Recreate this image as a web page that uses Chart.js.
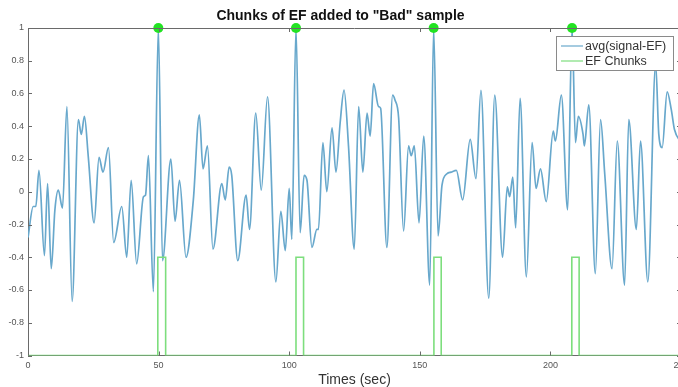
<!DOCTYPE html>
<html>
<head>
<meta charset="utf-8">
<script src="https://cdn.jsdelivr.net/npm/chart.js@4.4.1/dist/chart.umd.min.js"></script>
<style>
html, body { margin: 0; padding: 0; background: #fff; overflow: hidden; }
</style>
</head>
<body>
<canvas id="chunkChart" width="700" height="387"></canvas>
<script>
// signal (seconds, amplitude)
var sigTime = [0, 2.0, 3.0, 4.2, 6.3, 7.5, 8.9, 10.3, 11.6, 13.2, 14.9, 16.9, 19.3, 20.4, 21.6, 23.1, 25.3, 27.2, 28.7, 30.8,
    32.8, 35.9, 37.8, 39.5, 41.6, 44.2, 45.0, 46.1, 48.0, 49.9, 51.5, 54.7, 56.3, 58.0, 60.5, 63.3, 65.6, 67.0, 68.7, 70.8,
    74.2, 75.5, 77.0, 78.0, 80.3, 83.5, 84.8, 87.2, 89.3, 91.7, 94.9, 96.8, 98.5, 100.0, 101.0, 102.6, 104.2, 105.7, 106.8, 108.7,
    110.6, 111.2, 112.9, 114.4, 116.4, 117.9, 119.5, 121.0, 122.7, 124.9, 126.6, 128.2, 129.8, 131.0, 132.3, 134.2, 135.0, 137.4, 139.6, 140.5,
    141.9, 143.8, 145.7, 146.7, 147.9, 149.7, 151.5, 153.8, 155.3, 157.0, 158.5, 160.4, 162.0, 164.0, 166.4, 169.3, 171.5, 173.4, 176.4, 178.7,
    181.7, 183.5, 184.4, 185.6, 186.7, 188.4, 190.8, 193.0, 194.5, 196.2, 198.4, 201.1, 201.9, 204.2, 206.6, 208.3, 209.6, 210.7, 212.5, 213.0,
    214.7, 217.2, 219.2, 220.8, 223.6, 225.6, 228.4, 230.0, 232.9, 234.5, 237.3, 240.3, 241.5, 242.8, 244.7, 246.3, 247.5, 250];
var sigValue = [-0.28, -0.09, -0.09, 0.13, -0.39, 0.05, -0.47, -0.11, 0.01, -0.10, 0.52, -0.67, 0.44, 0.35, 0.46, 0.21, -0.19, 0.21, 0.12, 0.27,
    -0.31, -0.09, -0.40, 0.07, -0.44, -0.03, -0.02, 0.22, -0.61, 1.0, -0.42, 0.20, -0.18, 0.07, -0.40, -0.05, 0.47, 0.14, 0.28, -0.35,
    0.05, -0.05, 0.15, 0.10, -0.42, -0.02, -0.23, 0.48, 0.01, 0.58, -0.55, -0.12, -0.36, 0.02, -0.29, 1.0, -0.25, 0.10, 0.07, -0.34,
    -0.23, -0.23, 0.30, 0.00, 0.39, 0.12, 0.42, 0.62, 0.28, -0.35, 0.52, 0.12, 0.48, 0.34, 0.66, 0.52, 0.51, -0.34, 0.59, 0.56,
    0.45, -0.24, 0.28, 0.22, 0.28, -0.19, 0.34, -0.57, 1.0, -0.27, 0.04, 0.11, 0.12, 0.13, -0.05, 0.32, 0.08, 0.62, -0.65, 0.59,
    -0.40, 0.03, -0.03, 0.09, -0.22, 0.57, -0.52, 0.30, 0.02, 0.14, -0.06, 0.37, 0.31, 0.59, -0.11, 1.0, 0.30, 0.46, 0.35, 0.28,
    0.53, -0.50, 0.44, 0.11, -0.47, 0.31, -0.57, 0.44, -0.23, 0.31, -0.55, 0.78, 0.35, 0.27, 0.61, 0.50, 0.38, 0.30];

// EF chunks (start/end in seconds) and their levels
var chunkStart = [49.7, 102.6, 155.4, 208.2];
var chunkEnd = [52.7, 105.5, 158.2, 211.0];
var chunkBase = -1;
var chunkTop = -0.4;

// green markers on the spikes
var peakTime = [49.9, 102.6, 155.3, 208.3];
var peakValue = [1, 1, 1, 1];

var seriesLabels = ['avg(signal-EF)', 'EF Chunks'];
var xMax = 250;

var signalPoints = [];
for (var i = 0; i < sigTime.length; i++) {
    signalPoints.push({ x: sigTime[i], y: sigValue[i] });
}

var chunkPoints = [{ x: 0, y: chunkBase }];
for (var j = 0; j < chunkStart.length; j++) {
    chunkPoints.push({ x: chunkStart[j], y: chunkBase });
    chunkPoints.push({ x: chunkStart[j], y: chunkTop });
    chunkPoints.push({ x: chunkEnd[j], y: chunkTop });
    chunkPoints.push({ x: chunkEnd[j], y: chunkBase });
}
chunkPoints.push({ x: xMax, y: chunkBase });

var peakPoints = [];
for (var k = 0; k < peakTime.length; k++) {
    peakPoints.push({ x: peakTime[k], y: peakValue[k] });
}

const blue = 'rgb(104, 168, 204)';
const green = 'rgb(125, 222, 125)';
const axisGray = '#6a6a6a';

// inward ticks and the closed box, matlab style
var boxTicks = {
    id: 'boxTicks',
    afterDatasetsDraw: function(chart) {
        var ctx = chart.ctx, a = chart.chartArea;
        ctx.save();
        ctx.strokeStyle = axisGray;
        ctx.lineWidth = 1;
        ctx.beginPath();
        ctx.moveTo(a.left, a.top + 0.5);
        ctx.lineTo(a.right, a.top + 0.5);
        ctx.moveTo(a.right - 0.5, a.top);
        ctx.lineTo(a.right - 0.5, a.bottom);
        chart.scales.x.ticks.forEach(function(t) {
            var px = Math.round(chart.scales.x.getPixelForValue(t.value)) + 0.5;
            ctx.moveTo(px, a.bottom);
            ctx.lineTo(px, a.bottom - 4);
            ctx.moveTo(px, a.top);
            ctx.lineTo(px, a.top + 4);
        });
        chart.scales.y.ticks.forEach(function(t) {
            var py = Math.round(chart.scales.y.getPixelForValue(t.value)) + 0.5;
            ctx.moveTo(a.left, py);
            ctx.lineTo(a.left + 4, py);
            ctx.moveTo(a.right, py);
            ctx.lineTo(a.right - 4, py);
        });
        ctx.stroke();
        ctx.restore();
    },
    afterDraw: function(chart) {
        var ctx = chart.ctx, a = chart.chartArea;
        var bx = a.right - 125, by = a.top + 8, bw = 117, bh = 34;
        ctx.save();
        ctx.fillStyle = '#fff';
        ctx.fillRect(bx, by, bw, bh);
        ctx.strokeStyle = '#8a8a8a';
        ctx.lineWidth = 1;
        ctx.strokeRect(bx + 0.5, by + 0.5, bw, bh);
        var cols = [blue, green];
        ctx.font = '12.5px "Liberation Sans", Arial, sans-serif';
        ctx.textBaseline = 'middle';
        for (var n = 0; n < seriesLabels.length; n++) {
            var ly = by + 10 + n * 15;
            ctx.strokeStyle = cols[n];
            ctx.lineWidth = 1.2;
            ctx.beginPath();
            ctx.moveTo(bx + 5, ly);
            ctx.lineTo(bx + 27, ly);
            ctx.stroke();
            ctx.fillStyle = '#333';
            ctx.fillText(seriesLabels[n], bx + 29, ly + 0.5);
        }
        ctx.restore();
    }
};

var ctx = document.getElementById('chunkChart').getContext('2d');
var myChart = new Chart(ctx, {
    type: 'line',
    data: {
        datasets: [
            {
                label: 'peaks',
                data: peakPoints,
                showLine: false,
                pointRadius: 5,
                pointBackgroundColor: '#22e322',
                pointBorderColor: '#22e322',
                pointBorderWidth: 0,
                clip: false,
                order: 0
            },
            {
                label: seriesLabels[1],
                data: chunkPoints,
                borderColor: green,
                borderWidth: 1.6,
                pointRadius: 0,
                tension: 0,
                order: 1
            },
            {
                label: seriesLabels[0],
                data: signalPoints,
                borderColor: blue,
                borderWidth: 1.7,
                pointRadius: 0,
                cubicInterpolationMode: 'monotone',
                order: 2
            }
        ]
    },
    options: {
        responsive: false,
        animation: false,
        layout: { padding: { left: 0, right: 19, top: 0, bottom: 0 } },
        plugins: {
            legend: { display: false },
            tooltip: { enabled: false },
            title: {
                display: true,
                text: 'Chunks of EF added to "Bad" sample',
                color: '#111',
                font: { family: '"Liberation Sans", Arial, sans-serif', size: 14, weight: 'bold', lineHeight: 1.2 },
                padding: { top: 8, bottom: 3.2 }
            }
        },
        scales: {
            x: {
                type: 'linear',
                min: 0,
                max: xMax,
                afterFit: function(scale) { scale.height = 31.5; },
                grid: { drawOnChartArea: false, drawTicks: false },
                border: { color: axisGray, width: 1 },
                ticks: {
                    stepSize: 50,
                    padding: 5,
                    color: '#555',
                    font: { family: '"Liberation Sans", Arial, sans-serif', size: 9 }
                },
                title: {
                    display: true,
                    text: 'Times (sec)',
                    color: '#333',
                    padding: 0,
                    font: { family: '"Liberation Sans", Arial, sans-serif', size: 14, lineHeight: 1 }
                }
            },
            y: {
                min: -1,
                max: 1,
                afterFit: function(scale) { scale.width = 28; },
                grid: { drawOnChartArea: false, drawTicks: false },
                border: { color: axisGray, width: 1 },
                ticks: {
                    stepSize: 0.2,
                    padding: 4,
                    color: '#555',
                    font: { family: '"Liberation Sans", Arial, sans-serif', size: 9 },
                    callback: function(value) { return String(Number(value.toFixed(1))); }
                }
            }
        }
    },
    plugins: [boxTicks]
});
</script>
</body>
</html>
